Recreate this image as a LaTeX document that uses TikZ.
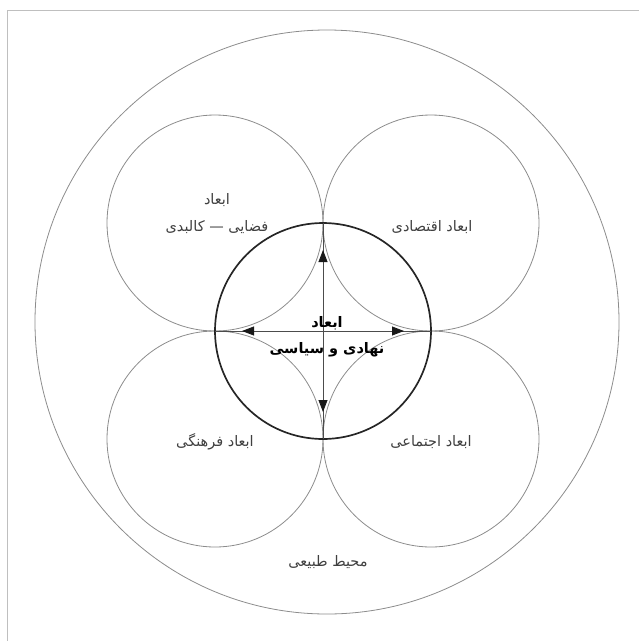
\documentclass[tikz,border=0pt]{standalone}
\usepackage{fontspec}
\newfontfamily\arabicfont[Script=Arabic]{DejaVu Sans}
\TeXXeTstate=1
\usetikzlibrary{arrows.meta}

\begin{document}
\begin{tikzpicture}[x=1pt,y=-1pt]
    \pgfmathsetmacro{\rad}{108}
    \pgfmathsetmacro{\cx}{323}
    \pgfmathsetmacro{\cy}{331}
    \pgfmathsetmacro{\reach}{81}
    \tikzset{ring/.style={draw=black!45,line width=0.8pt},
        core/.style={draw=black!85,line width=1.7pt},
        axis/.style={draw=black!70,line width=0.8pt},
        twoway/.style={axis,-{Triangle[length=12pt,width=9pt,color=black!90]}},
        dimtext/.style={font=\arabicfont\fontsize{14.5}{27}\selectfont,text=black!75,align=center},
        coretext/.style={font=\arabicfont\bfseries\fontsize{14.5}{26}\selectfont,align=center}}
    \useasboundingbox (0,0) rectangle (639,641);
    \draw[black!25] (7,641) -- (7,10.5) -- (639,10.5);
    % centres
    \coordinate (mid) at (\cx,\cy);
    \coordinate (tl) at (\cx-\rad,\cy-\rad);
    \coordinate (tr) at (\cx+\rad,\cy-\rad);
    \coordinate (bl) at (\cx-\rad,\cy+\rad);
    \coordinate (br) at (\cx+\rad,\cy+\rad);
    \draw[ring] (327,322) circle[radius=292pt];
    \foreach \c in {tl,tr,bl,br}
        \draw[ring] (\c) circle[radius=\rad pt];
    \draw[core] (mid) circle[radius=\rad pt];
    % axes
    \coordinate (west) at (\cx-\rad,\cy);
    \coordinate (east) at (\cx+\rad,\cy);
    \coordinate (north) at (\cx,\cy-\rad);
    \coordinate (south) at (\cx,\cy+\rad);
    \coordinate (tipW) at (\cx-\reach,\cy);
    \coordinate (tipE) at (\cx+\reach,\cy);
    \coordinate (tipN) at (\cx,\cy-\reach);
    \coordinate (tipS) at (\cx,\cy+\reach);
    \draw[axis] (west) -- (east);
    \draw[axis] (north) -- (south);
    \foreach \t in {tipW,tipE,tipN,tipS}
        \draw[twoway] (mid) -- (\t);
    % labels
    \node[dimtext] (spatial) at (217,214) {\beginR ابعاد\endR\\\beginR فضایی — کالبدی\endR};
    \node[dimtext] (economic) at (432,227) {\beginR ابعاد اقتصادی\endR};
    \node[dimtext] (cultural) at (215,442) {\beginR ابعاد فرهنگی\endR};
    \node[dimtext] (social) at (431,442) {\beginR ابعاد اجتماعی\endR};
    \node[dimtext] (nature) at (328,562) {\beginR محیط طبیعی\endR};
    \node[coretext] (political) at (327,337) {\beginR ابعاد\endR\\\beginR نهادی و سیاسی\endR};
\end{tikzpicture}
\end{document}
